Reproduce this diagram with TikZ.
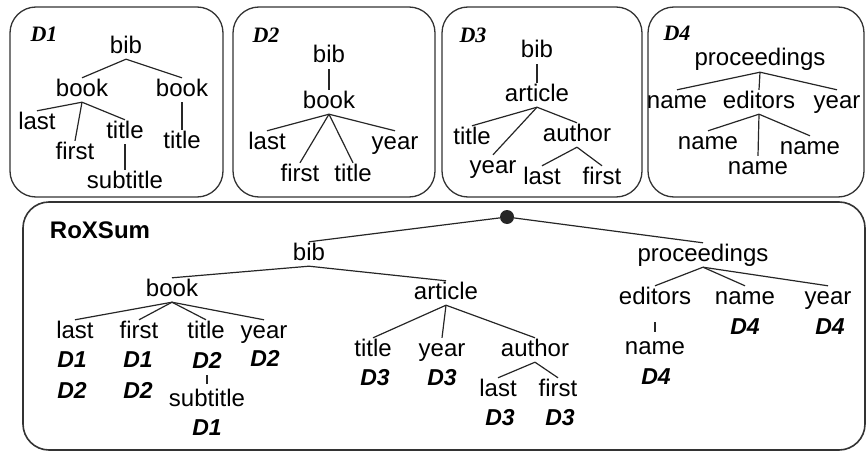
\documentclass[tikz,border=0pt]{standalone}
\usepackage{fontspec}
\setmainfont{Liberation Sans}
\newfontfamily\serifdoc{Liberation Serif}
\usepackage{tikz}

\tikzset{
  docbox/.style={draw=black!80, line width=1.3pt, rounded corners=26pt},
  elem/.style={inner sep=1pt, text height=17pt, text depth=5pt, font=\fontsize{24}{28}\selectfont},
  doclabel/.style={inner sep=1pt, font=\serifdoc\fontsize{22}{26}\selectfont\bfseries\itshape},
  srcdoc/.style={inner sep=1pt, font=\fontsize{23}{26}\selectfont\bfseries\itshape},
  link/.style={draw=black!85, line width=1.2pt},
}

\begin{document}
\begin{tikzpicture}[x=1pt,y=-1pt]
\useasboundingbox (0,0) rectangle (867,452);
% the four documents
\draw[docbox] (10,7) rectangle (223,197);
\draw[docbox] (233,7) rectangle (435,197);
\draw[docbox] (442,7) rectangle (642,197);
\draw[docbox] (648,7) rectangle (864,197);
% D1
\node[doclabel] (d1) at (44,34) {D1};
\node[elem] (d1bib) at (126,47) {bib};
\node[elem] (d1booka) at (82,90) {book};
\node[elem] (d1bookb) at (182,90) {book};
\node[elem] (d1last) at (37,123) {last};
\node[elem] (d1first) at (75,153) {first};
\node[elem] (d1titlea) at (125,132) {title};
\node[elem] (d1titleb) at (182,142) {title};
\node[elem] (d1sub) at (125,182) {subtitle};
\draw[link] (d1bib.south) -- (d1booka.north);
\draw[link] (d1bib.south) -- (d1bookb.north);
\draw[link] (d1booka.south) -- (d1last.north);
\draw[link] (d1booka.south) -- (d1first.north);
\draw[link] (d1booka.south) -- (d1titlea.north);
\draw[link] (d1bookb.south) -- (d1titleb.north);
\draw[link] (d1titlea.south) -- (d1sub.north);
% D2
\node[doclabel] (d2) at (266,35) {D2};
\node[elem] (d2bib) at (329,57) {bib};
\node[elem] (d2book) at (329,102) {book};
\node[elem] (d2last) at (267,143) {last};
\node[elem] (d2year) at (395,143) {year};
\node[elem] (d2first) at (300,175) {first};
\node[elem] (d2title) at (353,175) {title};
\draw[link] (d2bib.south) -- (d2book.north);
\draw[link] (d2book.south) -- (d2last.north);
\draw[link] (d2book.south) -- (d2first.north);
\draw[link] (d2book.south) -- (d2title.north);
\draw[link] (d2book.south) -- (d2year.north);
% D3
\node[doclabel] (d3) at (473,35) {D3};
\node[elem] (d3bib) at (537,52) {bib};
\node[elem] (d3article) at (537,95) {article};
\node[elem] (d3title) at (472,138) {title};
\node[elem] (d3year) at (493,167) {year};
\node[elem] (d3author) at (577,135) {author};
\node[elem] (d3last) at (542,178) {last};
\node[elem] (d3first) at (602,178) {first};
\draw[link] (d3bib.south) -- (d3article.north);
\draw[link] (d3article.south) -- (d3title.north);
\draw[link] (d3article.south) -- (d3year.north);
\draw[link] (d3article.south) -- (d3author.north);
\draw[link] (d3author.south) -- (d3last.north);
\draw[link] (d3author.south) -- (d3first.north);
% D4
\node[doclabel] (d4) at (677,33) {D4};
\node[elem] (d4proc) at (760,60) {proceedings};
\node[elem] (d4name) at (677,102) {name};
\node[elem] (d4editors) at (759,102) {editors};
\node[elem] (d4year) at (837,102) {year};
\node[elem] (d4namea) at (708,143) {name};
\node[elem] (d4nameb) at (758,168) {name};
\node[elem] (d4namec) at (810,148) {name};
\draw[link] (d4proc.south) -- (d4name.north);
\draw[link] (d4proc.south) -- (d4editors.north);
\draw[link] (d4proc.south) -- (d4year.north);
\draw[link] (d4editors.south) -- (d4namea.north);
\draw[link] (d4editors.south) -- (d4nameb.north);
\draw[link] (d4editors.south) -- (d4namec.north);

% the summary
\draw[docbox, line width=1.6pt] (23,202) rectangle (865,450);
\node[inner sep=1pt, font=\fontsize{24}{28}\selectfont\bfseries] (rox) at (100,230) {RoXSum};
\node[circle, fill=black!85, inner sep=0pt, minimum size=14pt] (root) at (507,217) {};
\node[elem] (bib) at (309,254) {bib};
\node[elem] (proc) at (703,255) {proceedings};
\node[elem] (book) at (172,290) {book};
\node[elem] (article) at (446,293) {article};
\draw[link] (root) -- (bib.north);
\draw[link] (root) -- (proc.north);
\draw[link] (bib.south) -- (book.north);
\draw[link] (bib.south) -- (article.north);
% book branch
\node[elem] (blast) at (75,332) {last};
\node[elem] (bfirst) at (139,332) {first};
\node[elem] (btitle) at (206,332) {title};
\node[elem] (byear) at (264,332) {year};
\node[srcdoc] (blasta) at (72,360) {D1};
\node[srcdoc] (blastb) at (72,390) {D2};
\node[srcdoc] (bfirsta) at (138,360) {D1};
\node[srcdoc] (bfirstb) at (138,390) {D2};
\node[srcdoc] (btitlea) at (207,360) {D2};
\node[srcdoc] (byeara) at (265,358) {D2};
\node[elem] (bsub) at (207,400) {subtitle};
\node[srcdoc] (bsuba) at (207,428) {D1};
\draw[link] (book.south) -- (blast.north);
\draw[link] (book.south) -- (bfirst.north);
\draw[link] (book.south) -- (btitle.north);
\draw[link] (book.south) -- (byear.north);
\draw[link, shorten <=6pt, shorten >=4pt] (btitlea.south) -- (bsub.north);
% article branch
\node[elem] (atitle) at (373,350) {title};
\node[elem] (ayear) at (442,350) {year};
\node[elem] (aauthor) at (535,350) {author};
\node[srcdoc] (atitlea) at (375,378) {D3};
\node[srcdoc] (ayeara) at (442,378) {D3};
\node[elem] (alast) at (498,390) {last};
\node[elem] (afirst) at (558,390) {first};
\node[srcdoc] (alasta) at (500,418) {D3};
\node[srcdoc] (afirsta) at (560,418) {D3};
\draw[link] (article.south) -- (atitle.north);
\draw[link] (article.south) -- (ayear.north);
\draw[link] (article.south) -- (aauthor.north);
\draw[link] (aauthor.south) -- (alast.north);
\draw[link] (aauthor.south) -- (afirst.north);
% proceedings branch
\node[elem] (peditors) at (655,298) {editors};
\node[elem] (pname) at (745,298) {name};
\node[elem] (pyear) at (828,298) {year};
\node[srcdoc] (pnamea) at (745,327) {D4};
\node[srcdoc] (pyeara) at (830,327) {D4};
\node[elem] (pedname) at (655,348) {name};
\node[srcdoc] (pednamea) at (656,377) {D4};
\draw[link] (proc.south) -- (peditors.north);
\draw[link] (proc.south) -- (pname.north);
\draw[link] (proc.south) -- (pyear.north);
\draw[link, shorten <=12pt, shorten >=4pt] (peditors.south) -- (pedname.north);
\end{tikzpicture}
\end{document}
